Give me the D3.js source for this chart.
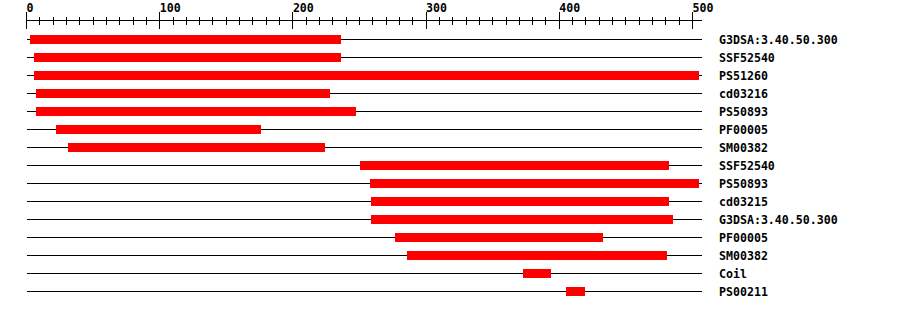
<!DOCTYPE html>
<html>
<head>
<meta charset="utf-8">
<script src="https://cdn.jsdelivr.net/npm/d3@7"></script>
<style>
  html, body { margin: 0; padding: 0; background: #fff; }
  svg { display: block; }
  text { font-family: "DejaVu Sans Mono", "Liberation Mono", monospace; font-weight: bold; font-size: 11.6px; fill: #000; }
</style>
</head>
<body>
<svg id="chart" width="900" height="310"></svg>
<script>
// ---- data ----
const labels = ["G3DSA:3.40.50.300", "SSF52540", "PS51260", "cd03216", "PS50893", "PF00005", "SM00382",
                "SSF52540", "PS50893", "cd03215", "G3DSA:3.40.50.300", "PF00005", "SM00382", "Coil", "PS00211"];
const starts = [3, 6, 6, 7, 7, 22, 31, 250, 258, 259, 259, 277, 286, 373, 405];
const ends   = [236, 236, 505, 228, 247, 176, 224, 482, 505, 482, 485, 433, 481, 394, 419];
const seqLength = 507;
const majorTicks = [0, 100, 200, 300, 400, 500];
const minorTicks = d3.range(0, 501, 10);

// ---- layout ----
const svg = d3.select("#chart");
const x = d3.scaleLinear().domain([0, 500]).range([26.5, 692.5]);
const y = d3.scalePoint().domain(d3.range(labels.length)).range([39.5, 291.5]);
const axisY = 20.5;

// axis line
svg.append("line")
  .attr("x1", x(0)).attr("x2", x(seqLength))
  .attr("y1", axisY).attr("y2", axisY)
  .attr("stroke", "#000").attr("stroke-width", 1).attr("shape-rendering", "crispEdges");

// minor ticks
svg.selectAll("line.minor").data(minorTicks).join("line")
  .attr("class", "minor")
  .attr("x1", d => x(d)).attr("x2", d => x(d))
  .attr("y1", 17).attr("y2", 25)
  .attr("stroke", "#000").attr("stroke-width", 1).attr("shape-rendering", "crispEdges");

// major ticks
svg.selectAll("line.major").data(majorTicks).join("line")
  .attr("class", "major")
  .attr("x1", d => x(d)).attr("x2", d => x(d))
  .attr("y1", 12).attr("y2", 29)
  .attr("stroke", "#000").attr("stroke-width", 1).attr("shape-rendering", "crispEdges");

// tick labels
svg.selectAll("text.tick").data(majorTicks).join("text")
  .attr("class", "tick")
  .attr("x", d => x(d))
  .attr("y", 12)
  .text(d => d);

// rows
const rows = svg.selectAll("g.row").data(labels).join("g").attr("class", "row");
rows.append("line")
  .attr("x1", x(0)).attr("x2", x(seqLength))
  .attr("y1", (d, i) => y(i)).attr("y2", (d, i) => y(i))
  .attr("stroke", "#000").attr("stroke-width", 1).attr("shape-rendering", "crispEdges");
rows.append("rect")
  .attr("x", (d, i) => Math.round(x(starts[i])))
  .attr("width", (d, i) => Math.round(x(ends[i])) - Math.round(x(starts[i])))
  .attr("y", (d, i) => y(i) - 4.5)
  .attr("height", 9)
  .attr("fill", "#ff0000")
  .attr("shape-rendering", "crispEdges");
rows.append("text")
  .attr("x", 719)
  .attr("y", (d, i) => y(i) + 4)
  .text(d => d);
</script>
</body>
</html>
